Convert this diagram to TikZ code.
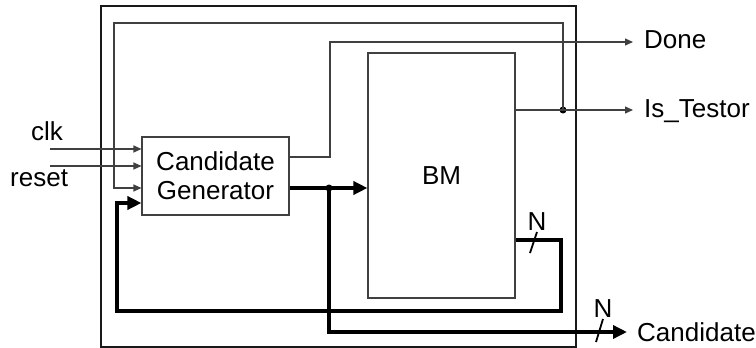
\documentclass[tikz,border=0pt]{standalone}
\usepackage{fontspec}
\setmainfont{Liberation Sans}
\usepackage{tikz}
\usetikzlibrary{arrows.meta, positioning}

\begin{document}
\begin{tikzpicture}[
    x=1pt, y=-1pt,
    font=\fontsize{26}{29}\selectfont,
    block/.style={draw=black!75, line width=1.1pt, minimum height=78pt, minimum width=147pt,
                  align=center, inner sep=0pt},
    frame/.style={draw=black!90, line width=2.8pt, minimum height=341pt, minimum width=475pt},
    lbl/.style={inner sep=0pt, anchor=west},
    sig/.style={-{Triangle[length=8pt, width=7pt]}, draw=black!75, line width=1.1pt},
    bus/.style={-{Triangle[length=14pt, width=13pt]}, line width=3.4pt},
    dot/.style={circle, fill=black, inner sep=0pt, minimum size=7pt}
]
\useasboundingbox (0,0) rectangle (756,348);

\node[frame] (top) at (338.5,176.5) {};
\node[block] (cg) at (215.5,176) {Candidate\\Generator};
\node[block, minimum height=245pt] (bm) at (441.5,175.5) {BM};

% inputs
\node[lbl] (clk) at (31,131) {clk};
\node[lbl] (reset) at (10,178) {reset};
\coordinate (clkin) at (50,149);
\coordinate (rstin) at (50,166);
\draw[sig] (clkin) -- ([yshift=27pt]cg.west);
\draw[sig] (rstin) -- ([yshift=10pt]cg.west);

% outputs
\node[lbl, inner xsep=11pt, anchor=west] (done) at (633,40) {Done};
\node[lbl, inner xsep=11pt, anchor=west] (test) at (633,111) {Is\_Testor};
\node[lbl, inner xsep=10pt, anchor=west] (cand) at (627,332) {Candidate};

\node[dot] (jt) at (563,110) {};
\node[dot] (jc) at (329,188) {};

% Done
\draw[sig] ([yshift=19pt]cg.east) -| (330,42) -- (done.west |- 0,42);
% Is_Testor and loop back
\draw[sig] ([yshift=65.5pt]bm.east) -- (test.west |- jt);
\draw[sig] (jt.center) |- (114,23) |- ([yshift=-12pt]cg.west);

% Candidate bus
\draw[bus] ([yshift=-12pt]cg.east) -- ([yshift=-12.5pt]bm.west);
\draw[bus] (jc.center) |- (cand.west);

% N feedback
\draw[bus] ([yshift=-64.5pt]bm.east) -| (561,311) -| (117,203)
    -- ([yshift=-27pt]cg.west);

% bus widths
\draw[line width=1.8pt] (530,253) -- (537,232) node[above, inner sep=1pt] {N};
\draw[line width=1.8pt] (596,342) -- (603,319) node[above, inner sep=1pt] {N};

\end{tikzpicture}
\end{document}
